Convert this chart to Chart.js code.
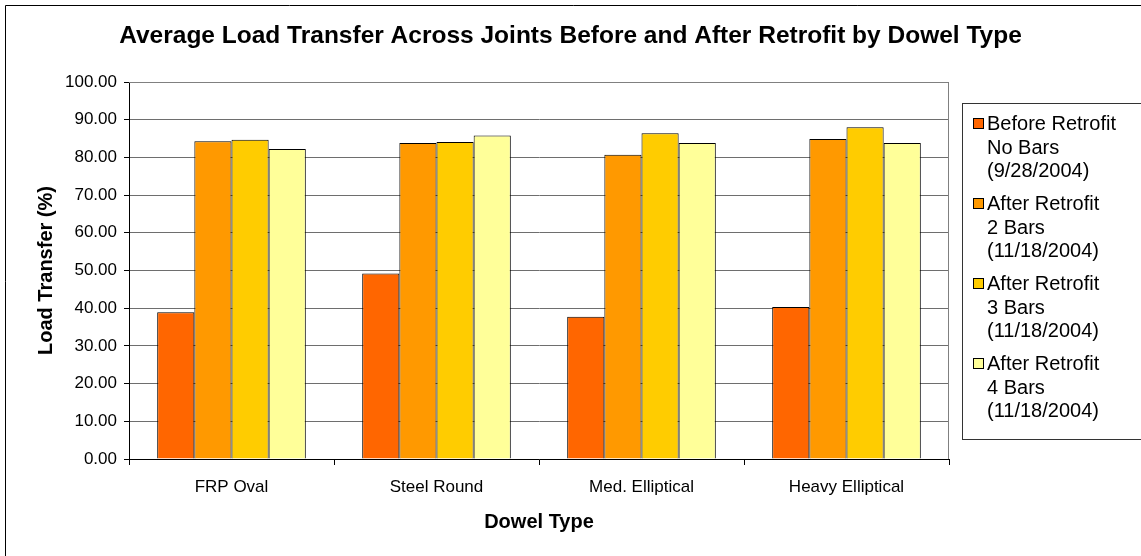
<!DOCTYPE html>
<html>
<head>
<meta charset="utf-8">
<script src="https://cdn.jsdelivr.net/npm/chart.js@4/dist/chart.umd.min.js"></script>
<style>
  html, body { margin: 0; padding: 0; background: #fff; }
  #wrap { width: 1141px; height: 556px; position: relative; }
</style>
</head>
<body>
<div id="wrap"><canvas id="loadChart" width="1141" height="556"></canvas></div>
<script>
const FONT = "'Liberation Sans', Arial, sans-serif";

const dowelTypes = ['FRP Oval', 'Steel Round', 'Med. Elliptical', 'Heavy Elliptical'];

const beforeNoBars = [38.9, 49.2, 37.7, 40.3];
const afterTwoBars = [84.3, 83.8, 80.7, 84.9];
const afterThreeBars = [84.7, 84.1, 86.4, 88.0];
const afterFourBars = [82.2, 85.8, 83.8, 83.8];

const seriesLabels = [
  ['Before Retrofit', 'No Bars', '(9/28/2004)'],
  ['After Retrofit', '2 Bars', '(11/18/2004)'],
  ['After Retrofit', '3 Bars', '(11/18/2004)'],
  ['After Retrofit', '4 Bars', '(11/18/2004)'],
];
const seriesColors = ['#FF6600', '#FF9900', '#FFCC00', '#FFFF99'];

const yTicks = { min: 0, max: 100, step: 10 };

const seriesValues = [beforeNoBars, afterTwoBars, afterThreeBars, afterFourBars];

// frame line around the chart object plus a boxed legend on the right
const frameAndLegend = {
  id: 'frameAndLegend',
  beforeDraw(chart) {
    const { ctx } = chart;
    ctx.save();
    ctx.fillStyle = '#fff';
    ctx.fillRect(0, 0, chart.width, chart.height);
    ctx.strokeStyle = '#000';
    ctx.lineWidth = 1;
    ctx.beginPath();
    ctx.moveTo(5.5, chart.height + 2);
    ctx.lineTo(5.5, 5.5);
    ctx.lineTo(chart.width + 2, 5.5);
    ctx.stroke();
    ctx.restore();
  },
  afterDraw(chart) {
    const { ctx, chartArea } = chart;
    ctx.save();
    // plot area outline (top/right in grey)
    ctx.strokeStyle = '#808080';
    ctx.lineWidth = 1;
    ctx.beginPath();
    ctx.moveTo(chartArea.left, chartArea.top + 0.5);
    ctx.lineTo(chartArea.right - 0.5, chartArea.top + 0.5);
    ctx.lineTo(chartArea.right - 0.5, chartArea.bottom);
    ctx.stroke();

    const boxLeft = 962.5, boxTop = 103.5, boxBottom = 439.5;
    ctx.strokeStyle = '#333';
    ctx.strokeRect(boxLeft, boxTop, chart.width + 10 - boxLeft, boxBottom - boxTop);

    ctx.font = '20px ' + FONT;
    ctx.textBaseline = 'alphabetic';
    ctx.textAlign = 'left';
    chart.data.datasets.forEach((ds, i) => {
      const base = 130 + i * 80;
      ctx.fillStyle = ds.backgroundColor;
      ctx.fillRect(973, base - 12, 11, 11);
      ctx.strokeStyle = '#000';
      ctx.strokeRect(973.5, base - 11.5, 10, 10);
      ctx.fillStyle = '#000';
      ds.label.forEach((line, j) => {
        ctx.fillText(line, 987, base + j * 23.5);
      });
    });
    ctx.restore();
  }
};

const datasets = seriesValues.map((values, i) => ({
  label: seriesLabels[i],
  data: values,
  backgroundColor: seriesColors[i],
  borderColor: '#000',
  borderWidth: 1,
  borderSkipped: 'bottom',
  categoryPercentage: 0.725,
  barPercentage: 1.0,
}));

new Chart(document.getElementById('loadChart'), {
  type: 'bar',
  data: { labels: dowelTypes, datasets },
  options: {
    responsive: false,
    animation: false,
    layout: { padding: { top: 22, right: 0, bottom: 0, left: 0 } },
    plugins: {
      legend: { display: false },
      tooltip: { enabled: false },
      title: {
        display: true,
        text: 'Average Load Transfer Across Joints Before and After Retrofit by Dowel Type',
        color: '#000',
        font: { family: FONT, size: 24.5, weight: 'bold' },
        padding: { top: 0, bottom: 30.6 },
      },
    },
    scales: {
      x: {
        afterFit: (scale) => { scale.height = 97; },
        grid: {
          offset: true,
          drawOnChartArea: false,
          tickLength: 6,
          color: '#000',
        },
        border: { color: '#000', width: 1 },
        ticks: {
          color: '#000',
          padding: 12,
          maxRotation: 0,
          font: { family: FONT, size: 17 },
        },
        title: {
          display: true,
          text: 'Dowel Type',
          color: '#000',
          font: { family: FONT, size: 20, weight: 'bold' },
          padding: { top: 0, bottom: 22 },
        },
      },
      y: {
        min: yTicks.min,
        max: yTicks.max,
        afterFit: (scale) => { scale.width = 129; },
        grid: {
          color: '#6e6e6e',
          tickColor: '#000',
          tickLength: 5,
        },
        border: { color: '#000', width: 1 },
        ticks: {
          stepSize: yTicks.step,
          color: '#000',
          padding: 7,
          font: { family: FONT, size: 17 },
          callback: (v) => Number(v).toFixed(2),
        },
        title: {
          display: true,
          text: 'Load Transfer (%)',
          color: '#000',
          font: { family: FONT, size: 20, weight: 'bold' },
          padding: { top: 34, bottom: 0 },
        },
      },
      legendSpace: {
        type: 'linear',
        position: 'right',
        afterFit: (scale) => { scale.width = 192; },
        grid: { display: false },
        border: { display: false },
        ticks: { display: false },
      },
    },
  },
  plugins: [frameAndLegend],
});
</script>
</body>
</html>
